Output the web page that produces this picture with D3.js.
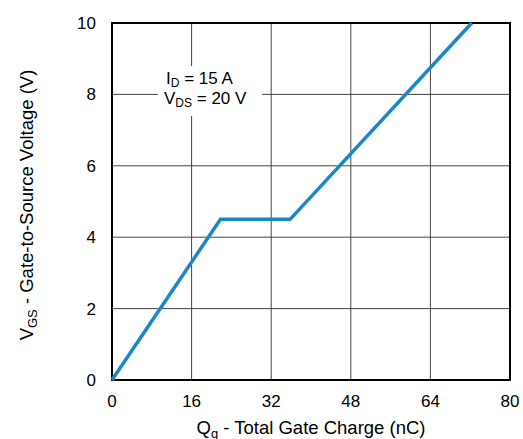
<!DOCTYPE html>
<html>
<head>
<style>
body {margin:0; background:#fff;}
text {font-family: "Liberation Sans", Arial, sans-serif; fill:#000;}
</style>
<script src="https://d3js.org/d3.v7.min.js"></script>
</head>
<body>
<svg id="vis" width="523" height="439"></svg>
<script>
// gate charge curve
var qg = [0, 21.8, 35.8, 72.3];
var vgs = [0, 4.5, 4.5, 10];
var xTicks = [0, 16, 32, 48, 64, 80];
var yTicks = [0, 2, 4, 6, 8, 10];

var pLeft = 112, pRight = 510, pTop = 23, pBottom = 380;
var svg = d3.select("#vis");

var x = d3.scaleLinear().domain([0, 80]).range([pLeft, pRight]);
var y = d3.scaleLinear().domain([0, 10]).range([pBottom, pTop]);

// grid
svg.append("g").selectAll("line").data(xTicks.slice(1, -1)).enter().append("line")
  .attr("x1", function(d){ return x(d); }).attr("x2", function(d){ return x(d); })
  .attr("y1", pTop).attr("y2", pBottom)
  .style("stroke", "#444").style("stroke-width", 1);
svg.append("g").selectAll("line").data(yTicks.slice(1, -1)).enter().append("line")
  .attr("x1", pLeft).attr("x2", pRight)
  .attr("y1", function(d){ return y(d); }).attr("y2", function(d){ return y(d); })
  .style("stroke", "#444").style("stroke-width", 1);

// annotation box
svg.append("rect").attr("x", 158).attr("y", 66).attr("width", 104).attr("height", 50).style("fill", "#fff");
var ann = svg.append("text").attr("x", 166).attr("y", 84).style("font-size", "17px");
ann.append("tspan").text("I");
ann.append("tspan").attr("dy", 3).style("font-size", "12px").text("D");
ann.append("tspan").attr("dy", -3).text(" = 15 A");
var ann2 = svg.append("text").attr("x", 164).attr("y", 104).style("font-size", "17px");
ann2.append("tspan").text("V");
ann2.append("tspan").attr("dy", 3).style("font-size", "12px").text("DS");
ann2.append("tspan").attr("dy", -3).text(" = 20 V");

// tick labels
svg.append("g").selectAll("text").data(xTicks).enter().append("text")
  .attr("x", function(d){ return x(d); }).attr("y", pBottom + 27)
  .attr("text-anchor", "middle").style("font-size", "17px")
  .text(function(d){ return d; });
svg.append("g").selectAll("text").data(yTicks).enter().append("text")
  .attr("x", pLeft - 16).attr("y", function(d){ return y(d) + 6; })
  .attr("text-anchor", "end").style("font-size", "17px")
  .text(function(d){ return d; });

// frame
svg.append("rect").attr("x", pLeft).attr("y", pTop).attr("width", pRight - pLeft).attr("height", pBottom - pTop)
  .style("fill", "none").style("stroke", "#000").style("stroke-width", 2);

// curve
var pts = qg.map(function(d, i){ return [d, vgs[i]]; });
svg.append("path").datum(pts)
  .attr("d", d3.line().x(function(d){ return x(d[0]); }).y(function(d){ return y(d[1]); }))
  .style("fill", "none").style("stroke", "#1a87c9").style("stroke-width", 3.5)
  .style("stroke-linejoin", "miter");

// titles
var xt = svg.append("text").attr("x", 311).attr("y", 434).attr("text-anchor", "middle").style("font-size", "18.5px");
xt.append("tspan").text("Q");
xt.append("tspan").attr("dy", 4).style("font-size", "13px").text("g");
xt.append("tspan").attr("dy", -4).text(" - Total Gate Charge (nC)");

var yt = svg.append("text").attr("transform", "translate(33,205) rotate(-90)")
  .attr("text-anchor", "middle").style("font-size", "18.5px");
yt.append("tspan").text("V");
yt.append("tspan").attr("dy", 4).style("font-size", "13px").text("GS");
yt.append("tspan").attr("dy", -4).text(" - Gate-to-Source Voltage (V)");
</script>
</body>
</html>
